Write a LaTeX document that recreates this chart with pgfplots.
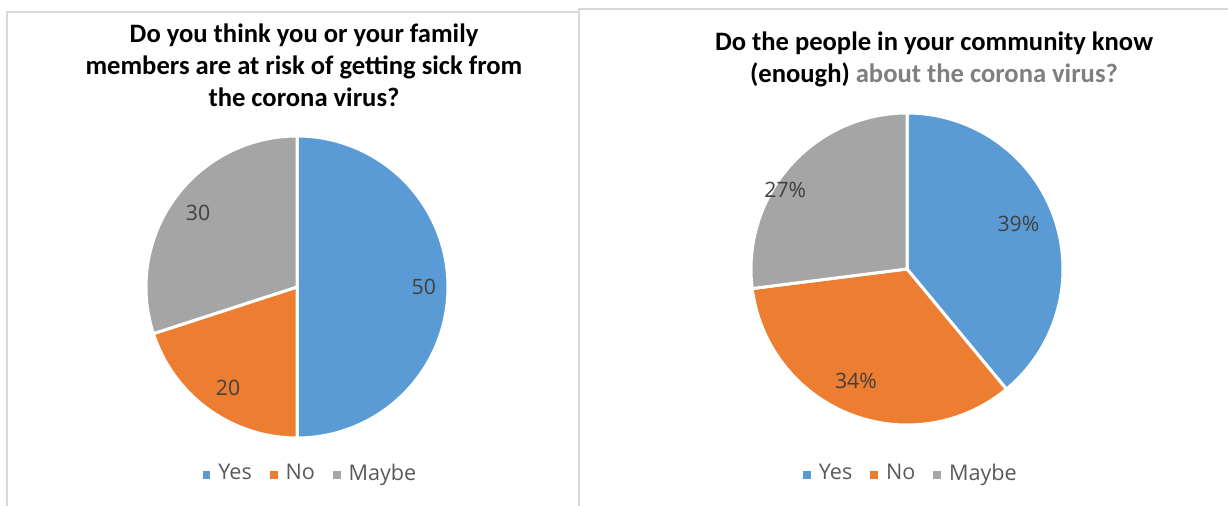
\documentclass[border=0pt]{standalone}
\usepackage{pgfplots}
\pgfplotsset{compat=1.18}
\usepackage{fontspec}
\setmainfont{Carlito}
\newfontfamily\uifont{Open Sans}
\definecolor{cyes}{HTML}{5B9BD5}
\definecolor{cno}{HTML}{ED7D31}
\definecolor{cmaybe}{HTML}{A5A5A5}
\definecolor{labgray}{HTML}{404040}
\definecolor{leggray}{HTML}{595959}
\definecolor{titlegray}{HTML}{7F7F7F}
\definecolor{bordergray}{HTML}{D9D9D9}

% slice: colour, cumulative share before, share, legend text, label text, label radius, label angle
\newcommand{\pieslice}[7]{%
  \pgfmathsetmacro{\lo}{90-3.6*(#2+#3)}%
  \pgfmathsetmacro{\hi}{90-3.6*(#2)}%
  \edef\doslice{\noexpand\addplot[fill=#1, draw=white, line width=1.5pt,
     domain=\lo:\hi, samples=120] ({cos(x)},{sin(x)}) -- (axis cs:0,0) -- cycle;}%
  \doslice
  \addlegendentry{#4}
  \node[font=\uifont\fontsize{10.6}{12}\selectfont, text=labgray]
     at (axis cs:{#6*cos(#7)},{#6*sin(#7)}) {#5};
}

\pgfplotsset{
  pie/.style={
    hide axis, scale only axis, clip=false,
    xmin=-1, xmax=1, ymin=-1, ymax=1,
    anchor=center,
    legend columns=3,
    legend image code/.code={\path[##1, draw=none] (0pt,-2.6pt) rectangle (3.9pt,1.4pt);
       \path (5.1pt,0pt);},
    legend style={draw=none, fill=none, anchor=center,
      font=\uifont\fontsize{10.8}{12}\selectfont, text=leggray,
      /tikz/every even column/.append style={column sep=7pt}},
  }
}

\begin{document}
\begin{tikzpicture}[x=0.5pt, y=-0.5pt]
\path[use as bounding box] (0,0) rectangle (1228,506);
\draw[bordergray, line width=0.8pt] (7,506) -- (7,12) -- (579,12);
\draw[bordergray, line width=0.8pt] (579,506) -- (579,9) -- (1228,9);

\node[align=center, font=\fontsize{13.3}{16}\selectfont\bfseries] at (304,65)
  {Do you think you or your family\\members are at risk of getting sick from\\the corona virus?};
\node[align=center, font=\fontsize{13.3}{16}\selectfont\bfseries] at (934,59)
  {Do the people in your community know\\(enough) \textcolor{titlegray}{about the corona virus?}};

\begin{axis}[pie, width=151pt, height=151pt, at={(148.5pt,-143.5pt)},
  legend style={at={(0.548,-0.117)}}]
  \pieslice{cyes}{0}{50}{Yes}{50}{0.84}{0}
  \pieslice{cno}{50}{20}{No}{20}{0.81}{-124.3}
  \pieslice{cmaybe}{70}{30}{Maybe}{30}{0.82}{143}
\end{axis}

\begin{axis}[pie, width=156pt, height=156pt, at={(453.5pt,-134.5pt)},
  legend style={at={(0.516,-0.156)}}]
  \pieslice{cyes}{0}{39}{Yes}{39\%}{0.77}{22}
  \pieslice{cno}{39}{34}{No}{34\%}{0.79}{-114.5}
  \pieslice{cmaybe}{73}{27}{Maybe}{27\%}{0.93}{147}
\end{axis}
\end{tikzpicture}
\end{document}
